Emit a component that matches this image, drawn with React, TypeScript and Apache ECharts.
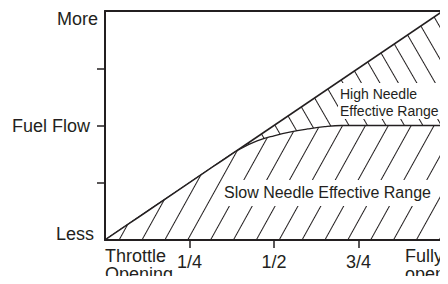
import React, { useEffect, useRef } from "react";
import * as echarts from "echarts";

// throttle opening (fraction of full) and fuel flow (0 = Less, 4 = More)
const slowX = [0, 0.1, 0.2, 0.3, 0.35, 0.4, 0.45, 0.5, 0.55, 0.6, 0.65, 0.7, 0.8, 0.9, 1];
const slowNeedle = [0, 0.4, 0.8, 1.2, 1.4, 1.59, 1.73, 1.82, 1.89, 1.94, 1.98, 2, 2, 2, 2];
const highX = [0, 1];
const highNeedle = [0, 4];
const xTickLabels = ["Throttle\nOpening", "1/4", "1/2", "3/4", "Fully\nopen"];
const yTickLabels = ["Less", "", "Fuel Flow", "", "More"];

const INK = "#231f20";
const FONT = '"Liberation Sans", Arial, Helvetica, sans-serif';

export default function App() {
  const ref = useRef<HTMLDivElement>(null);
  useEffect(() => {
    if (!ref.current) return;
    const chart = echarts.init(ref.current, null, { renderer: "svg" });
    const lowDecal = {
      symbol: "rect",
      symbolSize: 1,
      dashArrayX: [1, 0],
      dashArrayY: [1, 19],
      rotation: (-61 * Math.PI) / 180,
      color: INK,
      backgroundColor: null,
    };
    const highDecal = {
      symbol: "rect",
      symbolSize: 1,
      dashArrayX: [1, 0],
      dashArrayY: [1, 15],
      rotation: (60 * Math.PI) / 180,
      color: INK,
      backgroundColor: null,
    };
    const frameAxis = {
      axisLine: { show: true, onZero: false, lineStyle: { color: INK, width: 2 } },
      axisTick: { show: false },
      axisLabel: { show: false },
      splitLine: { show: false },
    };
    chart.setOption({
      animation: false,
      backgroundColor: "#fff",
      grid: { left: 105, right: 1, top: 11, bottom: 44 },
      xAxis: [
        {
          type: "value",
          min: 0,
          max: 1,
          interval: 0.25,
          position: "bottom",
          z: 5,
          axisLine: { show: true, onZero: false, lineStyle: { color: INK, width: 2 } },
          axisTick: {
            show: true,
            length: 8,
            customValues: [0.25, 0.5, 0.75],
            lineStyle: { color: INK, width: 1.5 },
          },
          splitLine: { show: false },
          axisLabel: {
            margin: 7,
            verticalAlign: "top",
            alignMinLabel: "left",
            alignMaxLabel: "right",
            color: INK,
            fontFamily: FONT,
            fontSize: 18,
            lineHeight: 18,
            formatter: (v: number) => {
              const i = Math.round(v * 4);
              const t = xTickLabels[i] || "";
              const key = i === 0 ? "a" : i === 4 ? "e" : "b";
              return t
                .split("\n")
                .map((s) => `{${key}|${s}}`)
                .join("\n");
            },
            rich: {
              a: { fontFamily: FONT, fontSize: 18, lineHeight: 18, color: INK },
              b: { fontFamily: FONT, fontSize: 18, lineHeight: 30, color: INK },
              e: { fontFamily: FONT, fontSize: 18, lineHeight: 18, color: INK, width: 38, align: "left" },
            },
          },
        },
        { type: "value", min: 0, max: 1, position: "top", z: 5, ...frameAxis },
      ],
      yAxis: [
        {
          type: "value",
          min: 0,
          max: 4,
          interval: 1,
          position: "left",
          z: 5,
          axisLine: { show: true, onZero: false, lineStyle: { color: INK, width: 2 } },
          axisTick: {
            show: true,
            length: 8,
            customValues: [1, 2, 3],
            lineStyle: { color: INK, width: 1.5 },
          },
          splitLine: { show: false },
          axisLabel: {
            margin: 7,
            color: INK,
            fontFamily: FONT,
            fontSize: 18,
            verticalAlignMaxLabel: "top",
            verticalAlignMinLabel: "bottom",
            formatter: (v: number) => {
              const t = yTickLabels[Math.round(v)] || "";
              if (!t) return "";
              const key = v >= 4 ? "m" : v <= 0 ? "l" : "f";
              return `{${key}|${t}}`;
            },
            rich: {
              m: { fontFamily: FONT, fontSize: 18, lineHeight: 16, color: INK },
              f: { fontFamily: FONT, fontSize: 18, lineHeight: 18, color: INK, padding: [0, 8, 0, 0] },
              l: { fontFamily: FONT, fontSize: 18, lineHeight: 13, color: INK, padding: [0, 4, 0, 0] },
            },
          },
        },
        { type: "value", min: 0, max: 4, position: "right", z: 5, ...frameAxis },
      ],
      series: [
        {
          name: "High Needle",
          type: "line",
          data: highX.map((x, i) => [x, highNeedle[i]]),
          showSymbol: false,
          lineStyle: { color: INK, width: 1.6 },
          itemStyle: { color: INK, decal: highDecal },
          areaStyle: { color: "rgba(255,255,255,0)", opacity: 1 },
          z: 2,
        },
        {
          name: "Slow Needle",
          type: "line",
          data: slowX.map((x, i) => [x, slowNeedle[i]]),
          showSymbol: false,
          smooth: 0.4,
          lineStyle: { color: INK, width: 1.3 },
          itemStyle: { color: INK, decal: lowDecal },
          areaStyle: { color: "#ffffff", opacity: 1 },
          z: 3,
        },
      ],
      graphic: [
        {
          type: "text",
          left: 338,
          top: 83,
          z: 10,
          style: {
            text: "High Needle\nEffective Range",
            font: `14px ${FONT}`,
            lineHeight: 17,
            fill: INK,
            backgroundColor: "#fff",
            padding: [2, 2, 0, 2],
          },
        },
        {
          type: "text",
          left: 222,
          top: 180,
          z: 10,
          style: {
            text: "Slow Needle Effective Range",
            font: `16px ${FONT}`,
            lineHeight: 16,
            fill: INK,
            backgroundColor: "#fff",
            padding: [4, 2, 6, 2],
          },
        },
      ],
    });
    return () => chart.dispose();
  }, []);
  return <div ref={ref} style={{ width: 448, height: 284, margin: -8 }} />;
}
